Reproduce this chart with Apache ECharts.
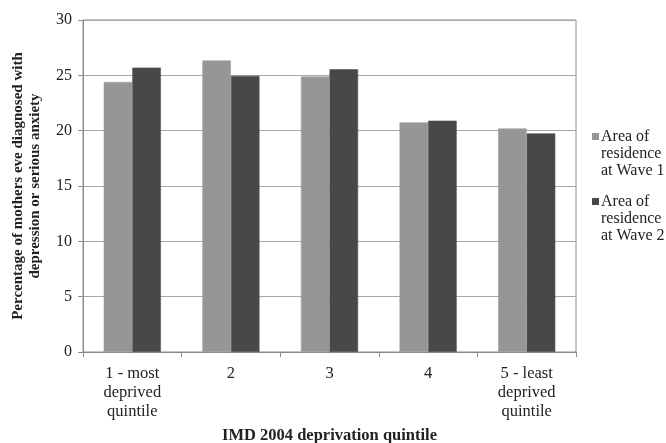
<!DOCTYPE html>
<html><head><meta charset="utf-8">
<script src="https://cdn.jsdelivr.net/npm/echarts@6/dist/echarts.min.js"></script>
<style>html,body{margin:0;padding:0;background:#fff}#c{width:666px;height:443px}</style>
</head><body><div id="c"></div>
<script>
const categories = ['1 - most\ndeprived\nquintile', '2', '3', '4', '5 - least\ndeprived\nquintile'];
const wave1 = [24.4, 26.35, 24.9, 20.75, 20.2];
const wave2 = [25.7, 24.95, 25.55, 20.9, 19.75];
const seriesNames = ['Area of residence at Wave 1', 'Area of residence at Wave 2'];
const legendLabels = {
  'Area of residence at Wave 1': 'Area of\nresidence\nat Wave 1',
  'Area of residence at Wave 2': 'Area of\nresidence\nat Wave 2'
};
const yTicks = [0, 5, 10, 15, 20, 25, 30];

const font = '"Liberation Serif", "DejaVu Serif", serif';
// square marker placed at the first text line (bbox spans the 3-line block height)
const topSquare = 'path://M0,0 L7,0 M0,5 L7,5 L7,12 L0,12 Z M0,51 L7,51';
function legendFor(name, top) {
  return {
    orient: 'vertical', left: 592, top: top, padding: 0,
    itemWidth: 7, itemHeight: 51, icon: topSquare, symbolKeepAspect: false,
    itemStyle: {borderWidth: 0, borderColor: 'rgba(0,0,0,0)'},
    data: [name],
    formatter: n => legendLabels[n],
    textStyle: {fontFamily: font, fontSize: 16, color: '#222', lineHeight: 17, padding: [0, 0, 0, -3]}
  };
}
const chart = echarts.init(document.getElementById('c'), null, {renderer: 'canvas'});
chart.setOption({
  animation: false,
  backgroundColor: '#fff',
  textStyle: {fontFamily: font},
  grid: {left: 83, right: 90, top: 20, bottom: 91, show: true, borderColor: '#8c8c8c', borderWidth: 1,
         outerBoundsMode: 'none', containLabel: false},
  legend: [legendFor(seriesNames[0], 128), legendFor(seriesNames[1], 193)],
  xAxis: {
    type: 'category', data: categories,
    name: 'IMD 2004 deprivation quintile', nameLocation: 'middle', nameGap: 75,
    nameTextStyle: {fontFamily: font, fontSize: 16.5, fontWeight: 'bold', color: '#222'},
    axisLine: {lineStyle: {color: '#8c8c8c'}},
    axisTick: {show: true, length: 5, lineStyle: {color: '#8c8c8c'}},
    axisLabel: {fontFamily: font, fontSize: 16.5, color: '#222', lineHeight: 19, margin: 12}
  },
  yAxis: {
    type: 'value', min: 0, max: 30, interval: 5,
    name: 'Percentage of mothers eve diagnosed with\ndepression or serious anxiety',
    nameLocation: 'middle', nameGap: 39,
    nameTextStyle: {fontFamily: font, fontSize: 15, fontWeight: 'bold', color: '#222', lineHeight: 17},
    axisLine: {show: true, lineStyle: {color: '#8c8c8c'}},
    axisTick: {show: true, length: 5, lineStyle: {color: '#8c8c8c'}},
    splitLine: {lineStyle: {color: '#a8a8a8'}},
    axisLabel: {fontFamily: font, fontSize: 16, color: '#222', margin: 11,
      formatter: v => yTicks.includes(v) ? String(v) : ''}
  },
  series: [
    {name: seriesNames[0], type: 'bar', data: wave1, barGap: '0%', barCategoryGap: '42%',
     itemStyle: {color: '#969696', borderColor: '#a4a4a4', borderWidth: 0.6}},
    {name: seriesNames[1], type: 'bar', data: wave2,
     itemStyle: {color: '#484848', borderColor: '#555', borderWidth: 0.6}}
  ]
});
</script></body></html>
